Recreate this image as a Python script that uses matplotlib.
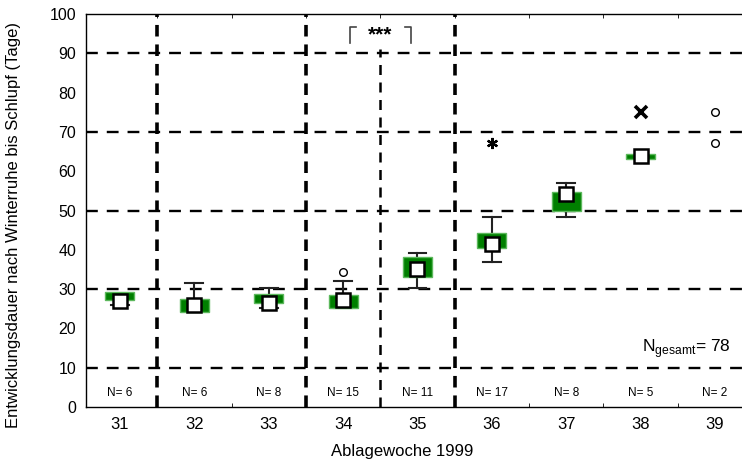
import matplotlib
matplotlib.use("Agg")
import matplotlib.pyplot as plt

plt.rcParams['font.family'] = ['Liberation Sans', 'DejaVu Sans']
plt.rcParams['mathtext.fontset'] = 'custom'
plt.rcParams['mathtext.rm'] = 'Liberation Sans'

# Ablagewoche und Box-Statistiken (Median, 25%, 75%, Min, Max)
weeks = [31, 32, 33, 34, 35, 36, 37, 38]
medians = [27, 26, 26.5, 27.3, 35, 41.5, 54.3, 64]
q1 = [27.2, 24.2, 26.5, 25.3, 33.2, 40.4, 50, 63.1]
q3 = [29.3, 27.5, 28.8, 28.5, 38.1, 44.2, 54.8, 64.3]
mins = [26, 24.2, 25.2, 25.2, 30.2, 37, 48.3, 63.1]
maxs = [29.3, 31.5, 30.3, 32, 39.1, 48.3, 57.1, 64.3]
# Ausreisser (Kreis) und Extremwerte (Stern)
outlier_x = [34, 39, 39]
outlier_y = [34.3, 75.1, 67.3]
extreme_x = [36, 38]
extreme_y = [67.3, 75]
all_weeks = [31, 32, 33, 34, 35, 36, 37, 38, 39]
n_labels = [6, 6, 8, 15, 11, 17, 8, 5, 2]

fig = plt.figure(figsize=(7.42, 4.68), dpi=100)
ax = fig.add_axes([0.1159, 0.1303, 0.8841, 0.8397])
ax.set_xlim(30.543, 39.363)
ax.set_ylim(0, 100)

# gestrichelte Gitterlinien
for y in [10, 30, 50, 70, 90]:
    ax.axhline(y, color="black", lw=1.7, ls=(0, (5, 3.8)), zorder=1)
for x in [31.5, 33.5, 35.5]:
    ax.axvline(x, color="black", lw=2.6, ls=(0, (3.2, 2.2)), zorder=1)
ax.plot([34.5, 34.5], [0, 91], color="black", lw=1.8, ls=(0, (4, 3)), zorder=1)

# Boxen
bw = 0.39
cw = 0.24
for i, w in enumerate(weeks):
    ax.bar(w, q3[i] - q1[i], bottom=q1[i], width=bw, color="#007f00",
           edgecolor="#5cb85c", lw=1, zorder=3)
    ax.plot([w, w], [q3[i], maxs[i]], color="#222222", lw=1.5, zorder=2)
    ax.plot([w, w], [mins[i], q1[i]], color="#222222", lw=1.5, zorder=2)
    if maxs[i] > q3[i]:
        ax.plot([w - cw / 2, w + cw / 2], [maxs[i], maxs[i]], color="#222222", lw=1.5, zorder=2)
    if mins[i] < q1[i]:
        ax.plot([w - cw / 2, w + cw / 2], [mins[i], mins[i]], color="#222222", lw=1.5, zorder=2)
ax.plot(weeks, medians, ls="none", marker="s", ms=9.5, mfc="white", mec="black",
        mew=1.8, zorder=4)
ax.plot(outlier_x, outlier_y, ls="none", marker="o", ms=5.5, mfc="white",
        mec="black", mew=1, zorder=4)
ax.plot(extreme_x[:1], extreme_y[:1], ls="none", marker=(6, 2, 0), ms=8,
        mec="black", mew=1.6, zorder=4)
ax.plot(extreme_x[1:], extreme_y[1:], ls="none", marker="x", ms=9,
        mec="black", mew=2.6, zorder=4)

# Signifikanz
ax.plot([34.09, 34.09, 34.17], [92.7, 96.8, 96.8], color="#444444", lw=1.2)
ax.plot([34.91, 34.91, 34.83], [92.7, 96.8, 96.8], color="#444444", lw=1.2)
ax.text(34.5, 94.8, "***", ha="center", va="center", fontsize=15, fontweight="bold")

for w, n in zip(all_weeks, n_labels):
    ax.text(w, 3.5, "N= %d" % n, ha="center", va="center", fontsize=8.5)
ax.text(39.215, 15, r"N$_{\mathrm{gesamt}}$= 78", ha="right", va="center", fontsize=12.5)

ax.set_xticks(all_weeks)
ax.set_xticklabels([str(w) for w in all_weeks], fontsize=12)
ax.set_xticks([31.5, 32.5, 33.5, 34.5, 35.5, 36.5, 37.5, 38.5], minor=True)
ax.set_yticks(range(0, 101, 10))
ax.set_yticklabels([str(v) for v in range(0, 101, 10)], fontsize=11.5)
ax.set_yticks([10, 30, 50, 70, 90], minor=True)
ax.tick_params(axis="both", which="major", length=0, pad=7)
ax.tick_params(axis="x", which="minor", direction="in", length=3, top=True)
ax.tick_params(axis="y", which="minor", direction="in", length=5, width=1.5)
ax.spines["right"].set_visible(False)
for s in ["left", "bottom", "top"]:
    ax.spines[s].set_linewidth(1)

ax.set_xlabel("Ablagewoche 1999", fontsize=12)
ax.xaxis.set_label_coords(0.482, -0.095)
ax.set_ylabel("Entwicklungsdauer nach Winterruhe bis Schlupf (Tage)", fontsize=12)
ax.yaxis.set_label_coords(-0.099, 0.463)

fig.savefig("out.png", dpi=100)
